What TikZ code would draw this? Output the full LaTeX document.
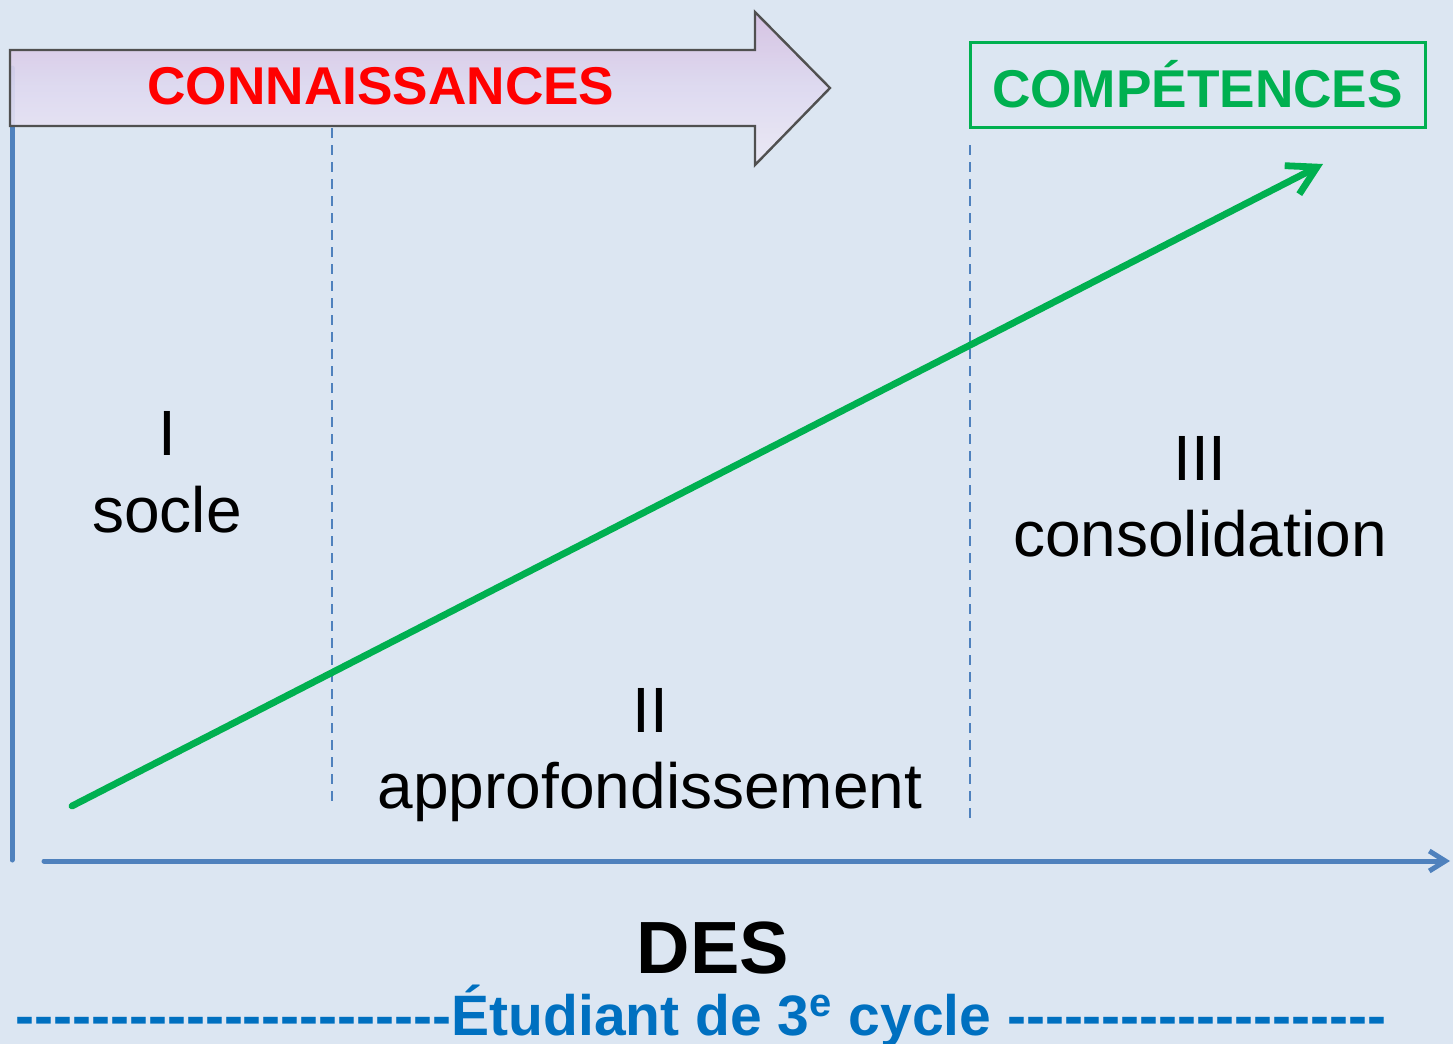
\documentclass[tikz,border=0pt]{standalone}
\usepackage{fontspec}
\setmainfont{Liberation Sans}
\usetikzlibrary{arrows.meta}

\definecolor{bgblue}{HTML}{DCE6F2}
\definecolor{axisblue}{HTML}{4F81BD}
\definecolor{compgreen}{HTML}{00B050}
\definecolor{textblue}{HTML}{0070C0}
\definecolor{lavender}{HTML}{DFDAF0}
\definecolor{edgegray}{HTML}{505050}

\newcommand\dashrun[1]{\foreach\k in {1,...,#1}{-\kern0pt}}

\tikzset{
  axis/.style={draw=axisblue, line width=2.5pt, line cap=round},
  limit/.style={draw=axisblue, line width=1.3pt, dash pattern=on 5pt off 3.5pt},
  phase/.style={anchor=base, font=\fontsize{32}{38}\selectfont},
  title/.style={font=\fontsize{26.6}{32}\selectfont\bfseries}
}

\begin{document}
\begin{tikzpicture}[x=0.5pt,y=-0.5pt]
        \fill[bgblue] (0,0) rectangle (1453,1044);
        \useasboundingbox (0,0) rectangle (1453,1044);

        % axes
        \coordinate (ytop) at (12, 68);
        \coordinate (origin) at (12, 860);
        \coordinate (xstart) at (44, 861);
        \coordinate (xend) at (1450, 861);
        \draw[axis] (origin) -- (ytop);
        \draw[axis, -{Straight Barb[length=8pt,width=10pt]}] (xstart) -- (xend);

        % big arrow
        \draw[top color=lavender!85!violet!90!white, bottom color=lavender!60!white, middle color=lavender,
              fill opacity=0.92, draw=edgegray, line width=1.2pt]
            (10, 50) -- (755, 50) -- (755, 12) -- (830, 88) -- (755, 165) -- (755, 126) -- (10, 126) -- cycle;
        \node[title, text=red] (conn) at (381, 86) {CONNAISSANCES};

        \node[title, text=compgreen, draw=compgreen, line width=1.5pt,
              minimum width=227.5pt, minimum height=42.5pt, inner sep=0pt] (comp) at (1197.5, 84.5) {COMPÉTENCES};

        % limits
        \coordinate (lima) at (332, 128);
        \coordinate (limb) at (332, 802);
        \coordinate (limc) at (970, 145);
        \coordinate (limd) at (970, 818);
        \draw[limit] (lima) -- (limb);
        \draw[limit] (limc) -- (limd);

        % growth
        \coordinate (gstart) at (72, 806);
        \coordinate (gend) at (1323, 164);
        \draw[draw=compgreen, line width=3.4pt, line cap=round,
              -{Straight Barb[length=14pt,width=16pt]}] (gstart) -- (gend);

        \node[phase] (n1) at (167, 455) {I};
        \node[phase] (p1) at (167, 532) {socle};
        \node[phase] (n2) at (650, 732) {II};
        \node[phase] (p2) at (650, 808) {approfondissement};
        \node[phase] (n3) at (1200, 480) {III};
        \node[phase] (p3) at (1200, 556) {consolidation};

        \node[anchor=base, font=\fontsize{37}{42}\selectfont\bfseries] (des) at (713, 973) {DES};
        \node[anchor=base, text=textblue, font=\fontsize{28.5}{32}\selectfont\bfseries] (cycle) at (701, 1035)
            {\dashrun{23}Étudiant de 3\textsuperscript{e} cycle \dashrun{20}};
\end{tikzpicture}
\end{document}
